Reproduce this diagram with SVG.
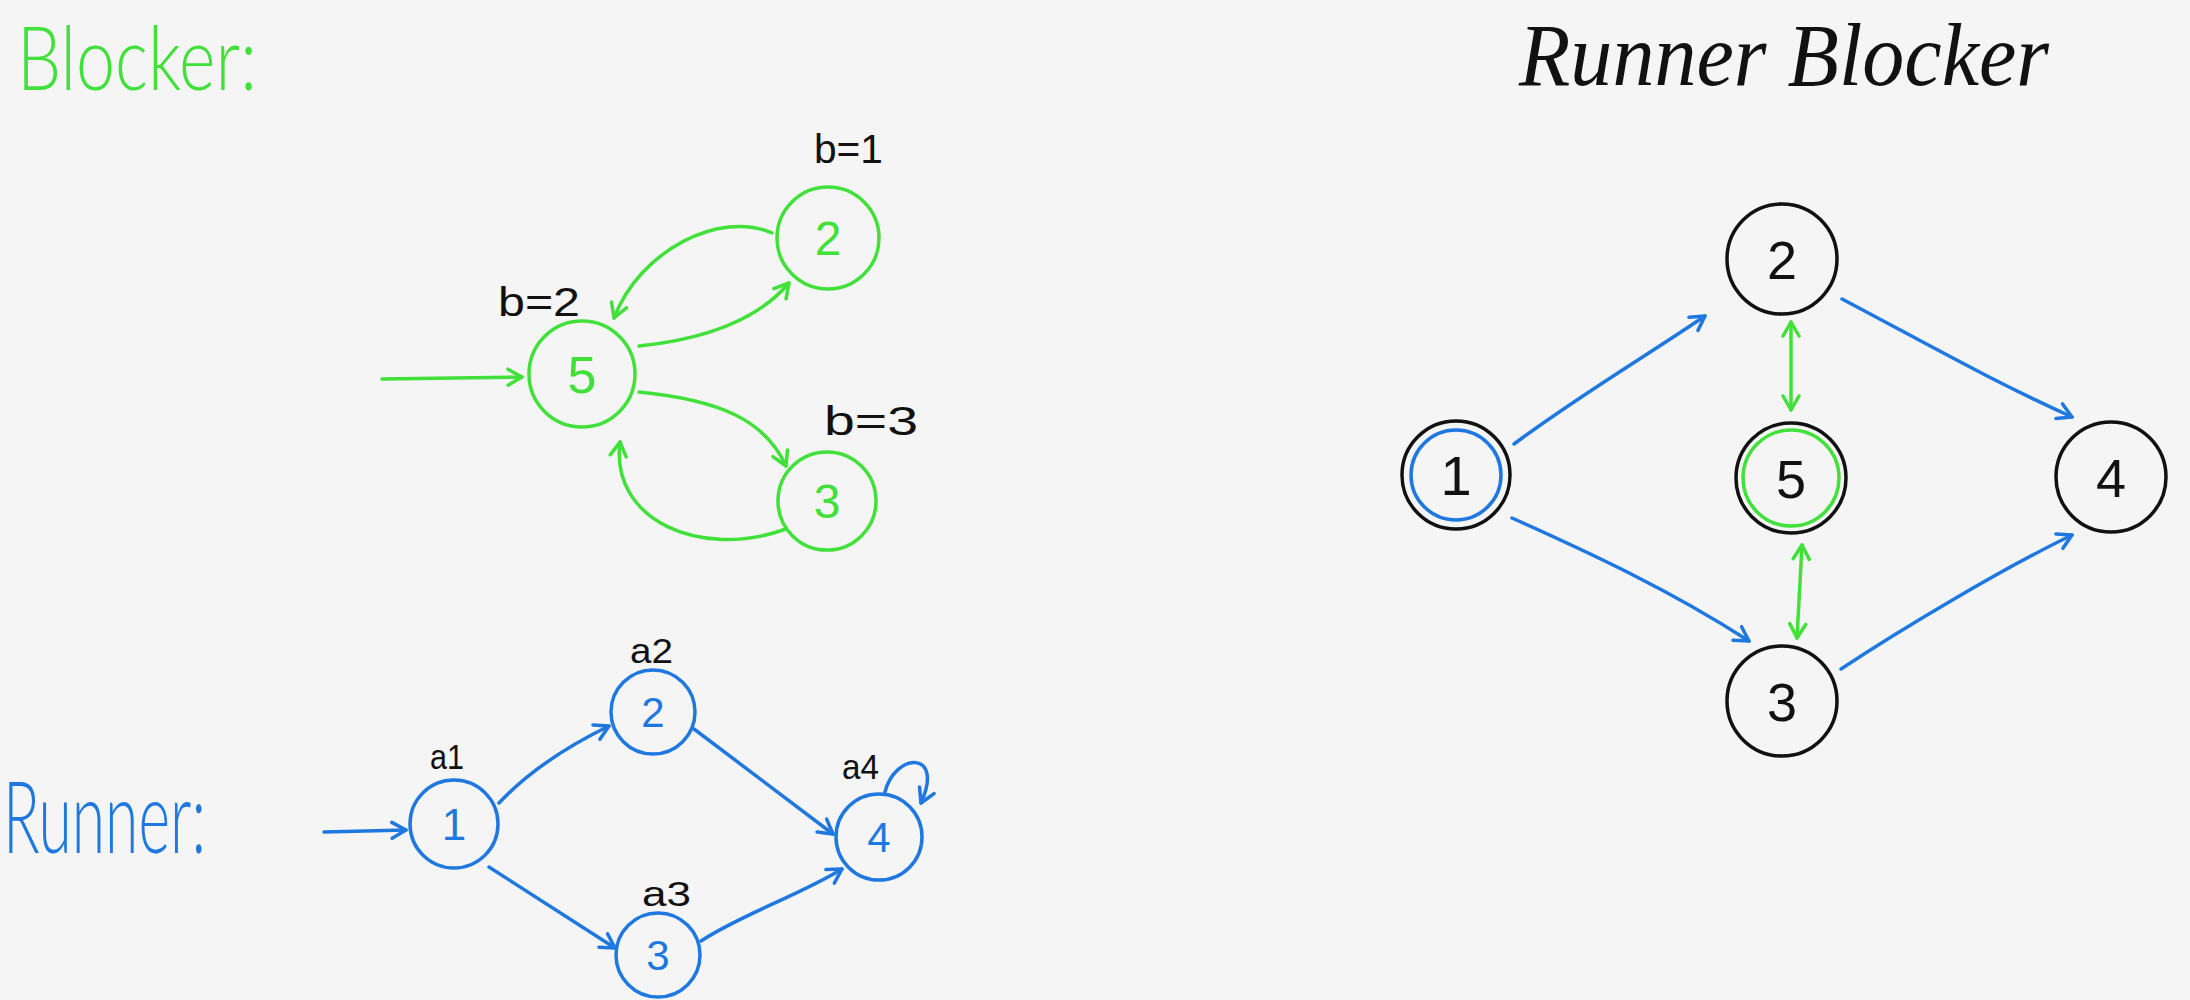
<svg xmlns="http://www.w3.org/2000/svg" width="2190" height="1000" viewBox="0 0 2190 1000">
<style>
.g{stroke:#42e03a;fill:none;stroke-width:3.5;stroke-linecap:round}
.b{stroke:#1f78e0;fill:none;stroke-width:3.5;stroke-linecap:round}
.k{stroke:#111;fill:none;stroke-width:3.5}
.tg{fill:#42e03a;font-family:"Liberation Sans",Arial,sans-serif}
.tb{fill:#1f78e0;font-family:"Liberation Sans",Arial,sans-serif}
.tk{fill:#111;font-family:"Liberation Sans",Arial,sans-serif}
.title{font-family:Lato,Roboto,"Liberation Sans",sans-serif;font-weight:300}
.num{text-anchor:middle}
</style>
<defs>
<marker id="ag" viewBox="0 0 20 20" refX="17" refY="10" markerWidth="20" markerHeight="20" markerUnits="userSpaceOnUse" orient="auto-start-reverse"><path d="M3,2 L17,10 L3,18" fill="none" stroke="#42e03a" stroke-width="3.5" stroke-linecap="round" stroke-linejoin="round"/></marker>
<marker id="ab" viewBox="0 0 20 20" refX="17" refY="10" markerWidth="20" markerHeight="20" markerUnits="userSpaceOnUse" orient="auto-start-reverse"><path d="M3,2 L17,10 L3,18" fill="none" stroke="#1f78e0" stroke-width="3.5" stroke-linecap="round" stroke-linejoin="round"/></marker>
</defs>
<rect width="2190" height="1000" fill="#f5f5f5"/>

<text class="tg title" x="17" y="90" font-size="88" textLength="240" lengthAdjust="spacingAndGlyphs">Blocker:</text>
<text class="tb title" x="3" y="853" font-size="100" textLength="203" lengthAdjust="spacingAndGlyphs">Runner:</text>
<text x="1519" y="85" font-size="88" textLength="530" lengthAdjust="spacingAndGlyphs" style="fill:#111;font-family:'Liberation Serif',serif;font-style:italic">Runner Blocker</text>

<g id="connectors">
<path class="g" marker-end="url(#ag)" d="M382,379 L522,377"/>
<path class="g" marker-end="url(#ag)" d="M639,346 Q745,335 789,283"/>
<path class="g" marker-end="url(#ag)" d="M772,233 C720,210 640,250 614,318"/>
<path class="g" marker-end="url(#ag)" d="M639,392 C720,400 765,420 786,466"/>
<path class="g" marker-end="url(#ag)" d="M786,529 C700,560 610,520 620,442"/>

<path class="b" marker-end="url(#ab)" d="M324,832 L406,830"/>
<path class="b" marker-end="url(#ab)" d="M499,803 C530,770 570,745 609,726"/>
<path class="b" marker-end="url(#ab)" d="M694,729 L833,834"/>
<path class="b" marker-end="url(#ab)" d="M489,867 L615,948"/>
<path class="b" marker-end="url(#ab)" d="M701,941 C740,915 800,895 842,869"/>
<path class="b" marker-end="url(#ab)" d="M885,792 C895,752 945,750 921,803"/>

<path class="b" marker-end="url(#ab)" d="M1514,444 C1580,395 1640,360 1705,316"/>
<path class="b" marker-end="url(#ab)" d="M1842,299 C1920,340 1990,380 2072,417"/>
<path class="b" marker-end="url(#ab)" d="M1512,518 C1590,553 1670,590 1749,641"/>
<path class="b" marker-end="url(#ab)" d="M1841,669 C1900,630 2000,570 2072,535"/>
<path class="g" marker-start="url(#ag)" marker-end="url(#ag)" d="M1791,322 L1791,410"/>
<path class="g" marker-start="url(#ag)" marker-end="url(#ag)" d="M1802,545 L1797,638"/>
</g>

<g id="b5"><circle class="g" cx="582" cy="374" r="53"/><text class="tg num" x="582" y="393" font-size="52">5</text><text class="tk" x="498" y="316" font-size="40" textLength="82" lengthAdjust="spacingAndGlyphs">b=2</text></g>
<g id="b2"><circle class="g" cx="828" cy="238" r="51"/><text class="tg num" x="828" y="255" font-size="48">2</text><text class="tk" x="814" y="163" font-size="40" textLength="69" lengthAdjust="spacingAndGlyphs">b=1</text></g>
<g id="b3"><circle class="g" cx="827" cy="501" r="49"/><text class="tg num" x="827" y="518" font-size="48">3</text><text class="tk" x="824" y="435" font-size="40" textLength="94" lengthAdjust="spacingAndGlyphs">b=3</text></g>

<g id="r1"><circle class="b" cx="454" cy="824" r="44"/><text class="tb num" x="454" y="840" font-size="44">1</text><text class="tk" x="430" y="769" font-size="35" textLength="34" lengthAdjust="spacingAndGlyphs">a1</text></g>
<g id="r2"><circle class="b" cx="653" cy="712" r="42"/><text class="tb num" x="653" y="727" font-size="42">2</text><text class="tk" x="630" y="663" font-size="35" textLength="43" lengthAdjust="spacingAndGlyphs">a2</text></g>
<g id="r3"><circle class="b" cx="658" cy="955" r="42"/><text class="tb num" x="658" y="970" font-size="42">3</text><text class="tk" x="642" y="906" font-size="35" textLength="49" lengthAdjust="spacingAndGlyphs">a3</text></g>
<g id="r4"><circle class="b" cx="879" cy="837" r="43"/><text class="tb num" x="879" y="852" font-size="42">4</text><text class="tk" x="842" y="779" font-size="35" textLength="37" lengthAdjust="spacingAndGlyphs">a4</text></g>

<g id="c1"><circle class="k" cx="1456" cy="475" r="54"/><circle class="b" cx="1456" cy="475" r="45"/><text class="tk num" x="1456" y="495" font-size="56">1</text></g>
<g id="c2"><circle class="k" cx="1782" cy="259" r="55"/><text class="tk num" x="1782" y="279" font-size="54">2</text></g>
<g id="c5"><circle class="k" cx="1791" cy="478" r="55"/><circle class="g" cx="1791" cy="478" r="48"/><text class="tk num" x="1791" y="498" font-size="54">5</text></g>
<g id="c4"><circle class="k" cx="2111" cy="477" r="55"/><text class="tk num" x="2111" y="497" font-size="54">4</text></g>
<g id="c3"><circle class="k" cx="1782" cy="701" r="55"/><text class="tk num" x="1782" y="721" font-size="54">3</text></g>
</svg>
